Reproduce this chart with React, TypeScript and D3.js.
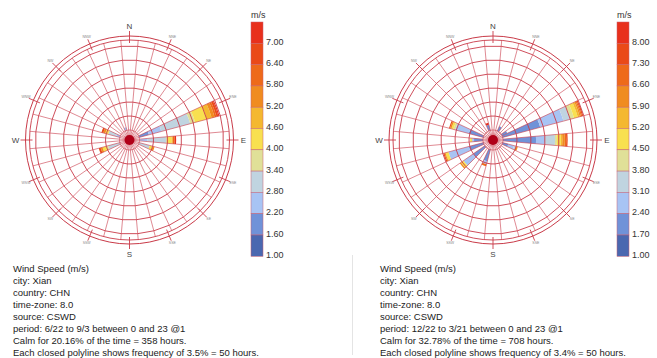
import React, { useRef, useEffect } from "react";
import * as d3 from "d3";

const W = 657;
const H = 358;

// speed bins, lowest first
const speedColors = [
  "#4a68b0", "#7092d8", "#a8c4f4", "#c0d4e0", "#e0e098", "#f8e050",
  "#f4b830", "#f08c20", "#ee6a1a", "#ea4a18", "#e8301c",
];

const summerTicks = ["1.00", "1.60", "2.20", "2.80", "3.40", "4.00", "4.60", "5.20", "5.80", "6.40", "7.00"];
const winterTicks = ["1.00", "1.70", "2.40", "3.10", "3.80", "4.50", "5.20", "5.90", "6.60", "7.30", "8.00"];

const compassLabels = ["N", "NNE", "NE", "ENE", "E", "ESE", "SE", "SSE", "S", "SSW", "SW", "WSW", "W", "WNW", "NW", "NNW"];

// hours per speed bin, one row per direction (degrees from north)
const summerDirs = [70, 90, 110, 250, 290, 340];
const summerHours = [
  [0, 36, 46, 107, 18, 43, 18, 11, 7, 7, 4],
  [0, 0, 29, 68, 0, 18, 4, 0, 7, 0, 5],
  [0, 0, 0, 39, 0, 11, 0, 7, 0, 0, 0],
  [0, 0, 0, 43, 7, 14, 0, 7, 0, 7, 0],
  [0, 0, 14, 29, 0, 11, 0, 7, 0, 7, 0],
  [0, 0, 11, 0, 0, 0, 0, 0, 0, 0, 0],
];

const winterDirs = [30, 60, 70, 90, 110, 200, 230, 250, 270, 290, 340];
const winterHours = [
  [0, 18, 0, 0, 0, 0, 0, 0, 0, 0, 0],
  [0, 21, 0, 0, 0, 0, 0, 0, 0, 0, 0],
  [0, 139, 86, 25, 14, 14, 7, 5, 4, 4, 0],
  [0, 118, 32, 36, 7, 14, 5, 9, 5, 5, 0],
  [0, 21, 21, 7, 0, 0, 0, 7, 0, 0, 0],
  [0, 43, 11, 0, 0, 0, 0, 0, 7, 0, 0],
  [0, 50, 43, 0, 0, 11, 0, 5, 0, 0, 0],
  [0, 54, 75, 0, 0, 11, 0, 4, 0, 4, 0],
  [0, 32, 7, 0, 0, 7, 0, 0, 0, 0, 0],
  [0, 54, 50, 0, 7, 7, 0, 5, 0, 4, 0],
  [0, 21, 0, 0, 0, 0, 0, 0, 0, 0, 7],
];

const summerInfo = [
  "Wind Speed (m/s)",
  "city: Xian",
  "country: CHN",
  "time-zone: 8.0",
  "source: CSWD",
  "period: 6/22 to 9/3 between 0 and 23 @1",
  "Calm for 20.16% of the time = 358 hours.",
  "Each closed polyline shows frequency of 3.5% = 50 hours.",
];
const winterInfo = [
  "Wind Speed (m/s)",
  "city: Xian",
  "country: CHN",
  "time-zone: 8.0",
  "source: CSWD",
  "period: 12/22 to 3/21 between 0 and 23 @1",
  "Calm for 32.78% of the time = 708 hours.",
  "Each closed polyline shows frequency of 3.4% = 50 hours.",
];

const gridColor = "#c93a48";
const font = "'Liberation Sans', Arial, sans-serif";
const calmR = 10;
const ringStep = 14;
const ringCount = 6;

const rad = (deg) => (deg * Math.PI) / 180;

function drawRose(g, dirs, hours) {
  const r = d3
    .scaleLinear()
    .domain([0, 50 * ringCount])
    .range([calmR, calmR + ringStep * ringCount]);

  // bars
  const arc = d3.arc();
  dirs.forEach((dir, i) => {
    let acc = 0;
    hours[i].forEach((h, bin) => {
      if (!h) return;
      g.append("path")
        .attr(
          "d",
          arc({
            innerRadius: r(acc),
            outerRadius: r(acc + h),
            startAngle: rad(dir - 5),
            endAngle: rad(dir + 5),
          })
        )
        .attr("fill", speedColors[bin]);
      acc += h;
    });
  });

  const grid = g.append("g").attr("fill", "none").attr("stroke", gridColor);

  // spokes run out to the compass circle
  d3.range(36).forEach((k) => {
    const a = rad(k * 10 + 5);
    grid
      .append("line")
      .attr("x1", 0)
      .attr("y1", 0)
      .attr("x2", 100 * Math.sin(a))
      .attr("y2", -100 * Math.cos(a))
      .attr("stroke-width", 0.7)
      .attr("stroke-opacity", 0.85);
  });

  // frequency polylines
  const ring = d3.lineRadial().curve(d3.curveLinearClosed);
  d3.range(0, ringCount + 1).forEach((k) => {
    const rr = r(50 * k);
    grid
      .append("path")
      .attr("d", ring(d3.range(36).map((j) => [rad(j * 10 + 5), rr])))
      .attr("stroke-width", k === 0 ? 0.6 : 0.9);
  });

  // compass circles and ticks
  grid.append("circle").attr("r", 100).attr("stroke-width", 0.9);
  grid.append("circle").attr("r", 104).attr("stroke-width", 1);
  compassLabels.forEach((lab, k) => {
    const a = rad(k * 22.5);
    grid
      .append("line")
      .attr("x1", 97 * Math.sin(a))
      .attr("y1", -97 * Math.cos(a))
      .attr("x2", 109 * Math.sin(a))
      .attr("y2", -109 * Math.cos(a))
      .attr("stroke-width", 0.9);
    const major = k % 4 === 0;
    const lr = major ? 114 : 112;
    g.append("text")
      .attr("x", lr * Math.sin(a))
      .attr("y", -lr * Math.cos(a))
      .attr("text-anchor", "middle")
      .attr("dominant-baseline", "central")
      .attr("font-family", font)
      .attr("font-size", major ? 8 : 3.5)
      .attr("fill", major ? "#444" : "#888")
      .text(lab);
  });

  g.append("circle").attr("r", 5).attr("fill", "#b00018");
}

function drawLegend(g, x, ticks) {
  const top = 22;
  const boxH = 21.3;
  const y = d3.scaleLinear().domain([0, 11]).range([top, top + boxH * 11]);
  g.append("text")
    .attr("x", x)
    .attr("y", top - 4)
    .attr("font-family", font)
    .attr("font-size", 9)
    .attr("fill", "#333")
    .text("m/s");
  d3.range(11).forEach((i) => {
    const bin = 10 - i;
    g.append("rect")
      .attr("x", x)
      .attr("y", y(i))
      .attr("width", 12)
      .attr("height", boxH)
      .attr("fill", speedColors[bin])
      .attr("stroke", "#c86070")
      .attr("stroke-width", 0.5);
    g.append("text")
      .attr("x", x + 15)
      .attr("y", y(i + 1) - 1.5)
      .attr("dominant-baseline", "central")
      .attr("font-family", font)
      .attr("font-size", 9)
      .attr("fill", "#333")
      .text(ticks[bin]);
  });
}

function drawInfo(g, x, lines) {
  g.selectAll("text")
    .data(lines)
    .join("text")
    .attr("x", x)
    .attr("y", (d, i) => 271.5 + i * 12)
    .attr("font-family", font)
    .attr("font-size", 9.5)
    .attr("fill", "#222")
    .text((d) => d);
}

const App = () => {
  const svgRef = useRef();

  useEffect(() => {
    const svg = d3.select(svgRef.current);
    svg.selectAll("*").remove();
    svg.append("rect").attr("width", W).attr("height", H).attr("fill", "#fff");

    svg.append("line")
      .attr("x1", 352.5).attr("x2", 352.5)
      .attr("y1", 255).attr("y2", 355)
      .attr("stroke", "#e4e4e4");

    drawRose(svg.append("g").attr("transform", "translate(129.5,140)"), summerDirs, summerHours);
    drawRose(svg.append("g").attr("transform", "translate(493,140)"), winterDirs, winterHours);

    drawLegend(svg.append("g"), 251, summerTicks);
    drawLegend(svg.append("g"), 617, winterTicks);

    drawInfo(svg.append("g"), 13, summerInfo);
    drawInfo(svg.append("g"), 380, winterInfo);
  }, []);

  return (
    <svg
      ref={svgRef}
      width={W}
      height={H}
      style={{ position: "absolute", left: 0, top: 0 }}
    />
  );
};

export default App;
